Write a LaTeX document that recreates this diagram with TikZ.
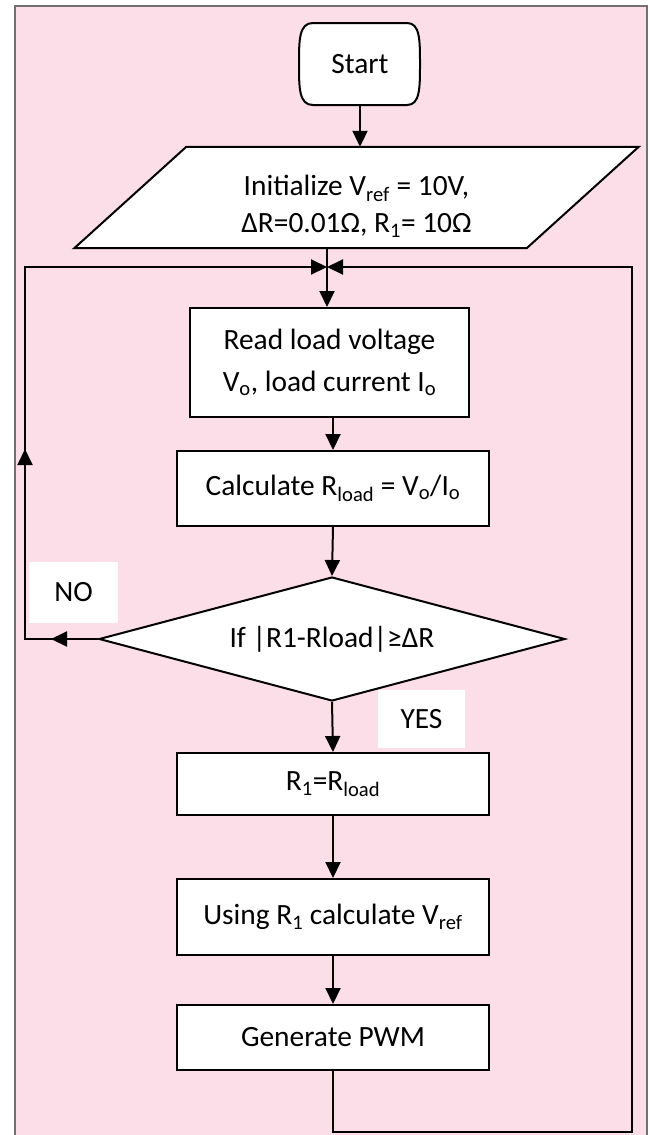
\documentclass[tikz,border=0pt]{standalone}
\usepackage{fontspec}
\setmainfont{Carlito}
\usepackage{tikz}
\usetikzlibrary{arrows.meta,positioning,calc,shapes.geometric,decorations.markings}
\usepackage{xcolor}
\definecolor{flowpink}{RGB}{252,222,233}
\definecolor{framegray}{RGB}{112,112,112}
\newcommand{\flowfont}{\fontsize{29.4pt}{42pt}\selectfont}

\begin{document}
\begin{tikzpicture}[x=1pt,y=-1pt,>={Triangle[length=16pt,width=15pt]},
    every node/.append style={font=\flowfont},
    flowline/.style={line width=2pt},
    flowarrow/.style={flowline,->},
    procbox/.style={draw,fill=white,line width=2pt,align=center,inner sep=0pt},
    tagbox/.style={fill=white,inner sep=0pt},
    midtip/.style={postaction={decorate,decoration={markings,mark=at position #1 with {\arrow{>}}}}}]
    \useasboundingbox (0,0) rectangle (649,1135);
    \fill[flowpink] (15,6) rectangle (647,1135);
    \draw[framegray,line width=2.5pt] (15,1140) -- (15,6) -- (647,6) -- (647,1140);

    % terminal
    \filldraw[fill=white,flowline] (313,23) -- (407,23)
        .. controls (420,23) and (420,40) .. (420,64)
        .. controls (420,88) and (420,105) .. (407,105) -- (313,105)
        .. controls (299,105) and (299,88) .. (299,64)
        .. controls (299,40) and (299,23) .. (313,23) -- cycle;
    \node[minimum height=82pt,inner sep=0pt] (start) at (360,64) {Start};

    % input parallelogram
    \node[minimum width=452pt,minimum height=101pt,inner sep=0pt] (init) at (356.5,197.5) {};
    \filldraw[fill=white,flowline] ([xshift=-56pt]init.south west) -- ([xshift=-56pt]init.south east)
        -- ([xshift=56pt]init.north east) -- ([xshift=56pt]init.north west) -- cycle;
    \node[align=center] (initlabel) at ([yshift=-9pt]init.center)
        {Initialize V\textsubscript{ref} = 10V,\\[-5pt]ΔR=0.01Ω, R\textsubscript{1}= 10Ω};

    \node[procbox,minimum width=279pt,minimum height=109pt] (read) at (329.5,362.5)
        {Read load voltage\\V\textsubscript{o}, load current I\textsubscript{o}};
    \node[procbox,minimum width=312pt,minimum height=75pt] (calc) at (333,488.5)
        {Calculate R\textsubscript{load} = V\textsubscript{o}/I\textsubscript{o}};
    \node[procbox,diamond,shape aspect=3.76,minimum width=466pt,minimum height=124pt] (cond) at (332,639)
        {If |R1-Rload|≥ΔR};
    \node[procbox,minimum width=312pt,minimum height=62pt] (update) at (333,784)
        {R\textsubscript{1}=R\textsubscript{load}};
    \node[procbox,minimum width=312pt,minimum height=76pt] (vref) at (333,917)
        {Using R\textsubscript{1} calculate V\textsubscript{ref}};
    \node[procbox,minimum width=312pt,minimum height=65pt] (pwm) at (333,1037.5) {Generate PWM};

    \node[tagbox,minimum width=89pt,minimum height=61pt] (no) at (73.5,592.5) {NO};
    \node[tagbox,minimum width=87pt,minimum height=58pt] (yes) at (421.5,719) {YES};

    % loop corners
    \coordinate (join) at (327,267);
    \coordinate (noturn) at (25,639);
    \coordinate (nocorner) at (25,267);
    \coordinate (loopbot) at (333,1132);
    \coordinate (loopcorner) at (632,1132);
    \coordinate (looptop) at (632,267);

    \draw[flowarrow] (start.south) -- (start.south |- init.north);
    \draw[flowline] (init.south -| join) -- (join);
    \draw[flowarrow] (join) -- (join |- read.north);
    \draw[flowarrow] (read.south -| calc.north) -- (calc.north);
    \draw[flowarrow] (calc.south) -- (cond.north);
    \draw[flowarrow] (cond.south) -- (update.north);
    \draw[flowarrow] (update.south) -- (vref.north);
    \draw[flowarrow] (vref.south) -- (pwm.north);
    \draw[flowarrow,midtip=47pt,midtip=263pt] (cond.west) -- (noturn) -- (nocorner) -- (join);
    \draw[flowarrow] (pwm.south) -- (loopbot) -- (loopcorner) -- (looptop) -- (join);
\end{tikzpicture}
\end{document}
